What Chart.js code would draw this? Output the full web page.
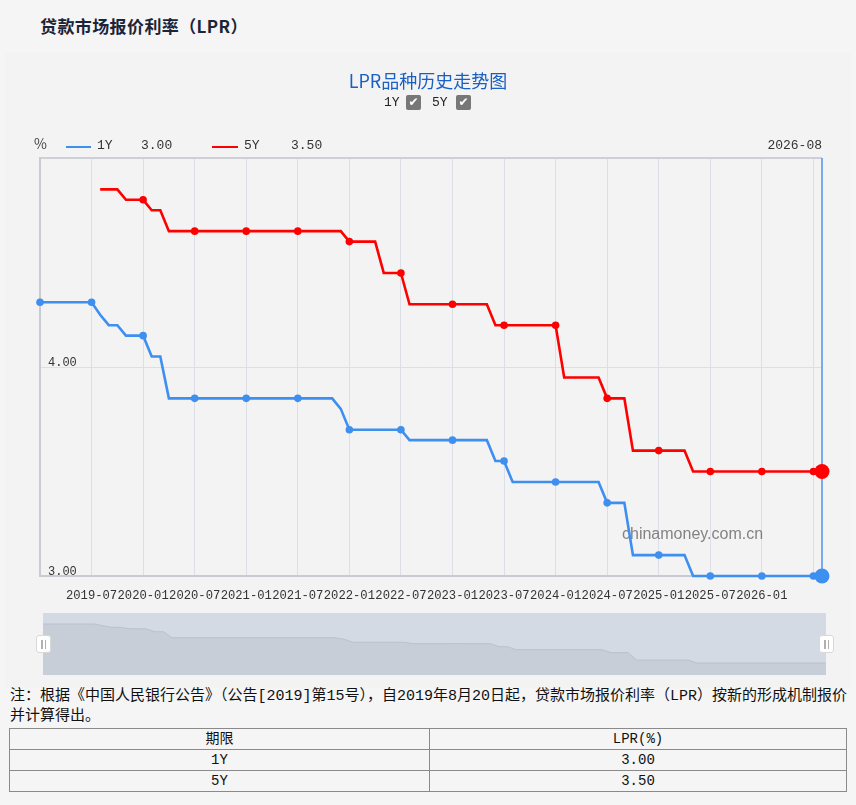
<!DOCTYPE html>
<html lang="zh-CN">
<head>
<meta charset="utf-8">
<title>贷款市场报价利率（LPR）</title>
<script src="https://cdn.jsdelivr.net/npm/chart.js@4.4.1/dist/chart.umd.min.js"></script>
<style>
  html, body { margin: 0; padding: 0; }
  body {
    width: 856px; height: 805px; position: relative; overflow: hidden;
    background: #f5f5f5; color: #222;
    font-family: "Noto Sans CJK SC", sans-serif;
  }
  .hd { position: absolute; left: 40px; top: 13px; font-size: 17px; font-weight: bold; color: #1b2438; line-height: 26px; letter-spacing: 0.4px; }
  .panel { position: absolute; left: 5px; top: 52px; width: 846px; height: 636px; background: #f3f3f3; }
  #lpr { position: absolute; left: 0; top: 0; }
  .ttl { position: absolute; left: 0; width: 856px; top: 66px; text-align: center; font-size: 18px; line-height: 28px; color: #1a5fc4; }
  .mono { font-family: "Liberation Mono", "Noto Sans CJK SC", monospace; }
  .abs { position: absolute; white-space: nowrap; }
  .box {
    position: absolute; width: 15px; height: 15px; border-radius: 2px; background: #777;
    color: #fff; font: bold 12px/15px "DejaVu Sans", sans-serif; text-align: center;
  }
  .lg { position: absolute; height: 2px; }
  .shadow { position: absolute; left: 43px; top: 613px; background: #d4dae3; }
  .handle {
    position: absolute; width: 13px; height: 16px; background: #fff; border: 1px solid #d8d8d8; border-radius: 3px;
  }
  .handle i { position: absolute; top: 4px; width: 1.5px; height: 9px; background: #b0b0b0; }
  .note { position: absolute; left: 10px; top: 687px; font-size: 15px; line-height: 20px; color: #111; white-space: nowrap; }
  table { position: absolute; left: 9px; top: 728px; width: 838px; border-collapse: collapse; font-size: 14px; color: #111; }
  td { border: 1px solid #8a8a8a; height: 20px; padding: 0; text-align: center; line-height: 20px; }
</style>
</head>
<body>
<div class="hd">贷款市场报价利率（LPR）</div>
<div class="panel"></div>
<canvas id="lpr" width="856" height="640"></canvas>

<div class="ttl">LPR品种历史走势图</div>
<span class="abs mono" style="left:384px; top:95px; font-size:13px;">1Y</span>
<span class="box" style="left:406px; top:95px;">✔</span>
<span class="abs mono" style="left:432px; top:95px; font-size:13px;">5Y</span>
<span class="box" style="left:456px; top:95px;">✔</span>

<span class="abs" style="left:34px; top:133px; font-size:14px; color:#444;">%</span>
<div class="lg" style="left:66px; top:146px; width:25px; background:#3d8ff0;"></div>
<span class="abs mono" style="left:97px; top:138px; font-size:13px; color:#333;">1Y</span>
<span class="abs mono" id="v1" style="left:141px; top:138px; font-size:13px; color:#333;"></span>
<div class="lg" style="left:212px; top:146px; width:26px; background:#ff0000;"></div>
<span class="abs mono" style="left:244px; top:138px; font-size:13px; color:#333;">5Y</span>
<span class="abs mono" id="v5" style="left:291px; top:138px; font-size:13px; color:#333;"></span>

<canvas id="shadow" class="shadow" width="783" height="62"></canvas>
<div class="handle" style="left:36px; top:635px;"><i style="left:4px"></i><i style="left:7.5px"></i></div>
<div class="handle" style="left:819px; top:635px;"><i style="left:4px"></i><i style="left:7.5px"></i></div>

<div class="note mono">注：根据《中国人民银行公告》（公告[2019]第15号），自2019年8月20日起，贷款市场报价利率（LPR）按新的形成机制报价<br>并计算得出。</div>

<table class="mono">
  <tr><td style="width:419px">期限</td><td>LPR(%)</td></tr>
  <tr><td>1Y</td><td id="t1"></td></tr>
  <tr><td>5Y</td><td id="t5"></td></tr>
</table>

<script>
// monthly categories 2019-01 .. 2026-08
const months = [
  '2019-01','2019-02','2019-03','2019-04','2019-05','2019-06','2019-07','2019-08','2019-09','2019-10','2019-11','2019-12',
  '2020-01','2020-02','2020-03','2020-04','2020-05','2020-06','2020-07','2020-08','2020-09','2020-10','2020-11','2020-12',
  '2021-01','2021-02','2021-03','2021-04','2021-05','2021-06','2021-07','2021-08','2021-09','2021-10','2021-11','2021-12',
  '2022-01','2022-02','2022-03','2022-04','2022-05','2022-06','2022-07','2022-08','2022-09','2022-10','2022-11','2022-12',
  '2023-01','2023-02','2023-03','2023-04','2023-05','2023-06','2023-07','2023-08','2023-09','2023-10','2023-11','2023-12',
  '2024-01','2024-02','2024-03','2024-04','2024-05','2024-06','2024-07','2024-08','2024-09','2024-10','2024-11','2024-12',
  '2025-01','2025-02','2025-03','2025-04','2025-05','2025-06','2025-07','2025-08','2025-09','2025-10','2025-11','2025-12',
  '2026-01','2026-02','2026-03','2026-04','2026-05','2026-06','2026-07','2026-08'
];

const lpr1Y = [
  4.31, 4.31, 4.31, 4.31, 4.31, 4.31, 4.31, 4.25, 4.20, 4.20, 4.15, 4.15,
  4.15, 4.05, 4.05, 3.85, 3.85, 3.85, 3.85, 3.85, 3.85, 3.85, 3.85, 3.85,
  3.85, 3.85, 3.85, 3.85, 3.85, 3.85, 3.85, 3.85, 3.85, 3.85, 3.85, 3.80,
  3.70, 3.70, 3.70, 3.70, 3.70, 3.70, 3.70, 3.65, 3.65, 3.65, 3.65, 3.65,
  3.65, 3.65, 3.65, 3.65, 3.65, 3.55, 3.55, 3.45, 3.45, 3.45, 3.45, 3.45,
  3.45, 3.45, 3.45, 3.45, 3.45, 3.45, 3.35, 3.35, 3.35, 3.10, 3.10, 3.10,
  3.10, 3.10, 3.10, 3.10, 3.00, 3.00, 3.00, 3.00, 3.00, 3.00, 3.00, 3.00,
  3.00, 3.00, 3.00, 3.00, 3.00, 3.00, 3.00, 3.00
];

const lpr5Y = [
  null, null, null, null, null, null, null, 4.85, 4.85, 4.85, 4.80, 4.80,
  4.80, 4.75, 4.75, 4.65, 4.65, 4.65, 4.65, 4.65, 4.65, 4.65, 4.65, 4.65,
  4.65, 4.65, 4.65, 4.65, 4.65, 4.65, 4.65, 4.65, 4.65, 4.65, 4.65, 4.65,
  4.60, 4.60, 4.60, 4.60, 4.45, 4.45, 4.45, 4.30, 4.30, 4.30, 4.30, 4.30,
  4.30, 4.30, 4.30, 4.30, 4.30, 4.20, 4.20, 4.20, 4.20, 4.20, 4.20, 4.20,
  4.20, 3.95, 3.95, 3.95, 3.95, 3.95, 3.85, 3.85, 3.85, 3.60, 3.60, 3.60,
  3.60, 3.60, 3.60, 3.60, 3.50, 3.50, 3.50, 3.50, 3.50, 3.50, 3.50, 3.50,
  3.50, 3.50, 3.50, 3.50, 3.50, 3.50, 3.50, 3.50
];

const xTickLabels = ['2019-07','2020-01','2020-07','2021-01','2021-07','2022-01','2022-07',
  '2023-01','2023-07','2024-01','2024-07','2025-01','2025-07','2026-01'];
const yTickLabels = ['3.00', '4.00'];

const BLUE = '#3d8ff0';
const RED = '#ff0000';
const last = months.length - 1;

// half-year marks carry the gridlines and the small markers
const isMark = i => /-(01|07)$/.test(months[i]);

const markerRadius = ctx => {
  if (ctx.type !== 'data') return 0;
  if (ctx.dataIndex === last) return 7.5;
  return isMark(ctx.dataIndex) ? 3.8 : 0;
};

document.getElementById('v1').textContent = lpr1Y[last].toFixed(2);
document.getElementById('v5').textContent = lpr5Y[last].toFixed(2);
document.getElementById('t1').textContent = lpr1Y[last].toFixed(2);
document.getElementById('t5').textContent = lpr5Y[last].toFixed(2);

const pointer = {
  id: 'pointer',
  beforeDatasetsDraw(chart) {
    const { ctx, chartArea } = chart;
    const x = chart.scales.x.getPixelForValue(last);
    ctx.save();
    ctx.fillStyle = 'rgba(110,110,110,0.85)';
    ctx.font = '16px "Liberation Sans", Arial, sans-serif';
    ctx.textAlign = 'left';
    ctx.textBaseline = 'middle';
    ctx.fillText('chinamoney.com.cn', 622, 535);
    ctx.strokeStyle = '#4f94ee';
    ctx.lineWidth = 1.5;
    ctx.beginPath();
    ctx.moveTo(x, chartArea.top);
    ctx.lineTo(x, chartArea.bottom);
    ctx.stroke();
    ctx.restore();
  },
  afterDraw(chart) {
    const { ctx, chartArea } = chart;
    const x = chart.scales.x.getPixelForValue(last);
    ctx.save();
    ctx.fillStyle = '#333';
    ctx.font = '13px "Liberation Mono", monospace';
    ctx.textAlign = 'right';
    ctx.textBaseline = 'middle';
    ctx.fillText(months[last], x, chartArea.top - 12);
    ctx.restore();
  }
};

new Chart(document.getElementById('lpr'), {
  type: 'line',
  data: {
    labels: months,
    datasets: [
      { label: '1Y', data: lpr1Y, borderColor: BLUE, backgroundColor: BLUE, borderWidth: 2.6, clip: false,
        pointRadius: markerRadius, pointHoverRadius: markerRadius, pointBorderWidth: 0, tension: 0 },
      { label: '5Y', data: lpr5Y, borderColor: RED, backgroundColor: RED, borderWidth: 2.6, clip: false,
        pointRadius: markerRadius, pointHoverRadius: markerRadius, pointBorderWidth: 0, tension: 0 }
    ]
  },
  options: {
    responsive: false,
    animation: false,
    events: [],
    layout: { autoPadding: false, padding: { left: 40, right: 34, top: 158, bottom: 24 } },
    plugins: { legend: { display: false }, tooltip: { enabled: false } },
    scales: {
      x: {
        ticks: {
          autoSkip: false, maxRotation: 0, minRotation: 0, padding: 12, color: '#333',
          font: { family: 'Liberation Mono', size: 12.2 },
          callback: (v, i) => xTickLabels.includes(months[i]) ? months[i] : ''
        },
        grid: {
          drawTicks: false, lineWidth: 1,
          color: ctx => (ctx.index > 0 && ctx.index < last && isMark(ctx.index)) ? '#dcdfe7' : 'transparent'
        },
        border: { color: '#c8cbd2', width: 2 },
        afterFit: s => { s.height = 40; }
      },
      y: {
        min: 3, max: 5,
        ticks: {
          stepSize: 1, mirror: true, padding: 8, labelOffset: -4, color: '#333',
          font: { family: 'Liberation Mono', size: 12 },
          callback: v => yTickLabels.find(t => Number(t) === v) || ''
        },
        grid: {
          drawTicks: false,
          color: ctx => ctx.tick.value === 5 ? '#cdd0d6' : (ctx.tick.value === 4 ? '#dcdfe7' : 'transparent'),
          lineWidth: ctx => ctx.tick.value === 5 ? 2 : 1
        },
        border: { color: '#c8cbd2', width: 2 },
        afterFit: s => { s.width = 0; }
      }
    }
  },
  plugins: [pointer]
});

// data-zoom style overview strip
new Chart(document.getElementById('shadow'), {
  type: 'line',
  data: {
    labels: months,
    datasets: [{ data: lpr1Y, borderColor: '#bac1cc', borderWidth: 1, backgroundColor: '#c8ced8',
      fill: 'start', pointRadius: 0, tension: 0 }]
  },
  options: {
    responsive: false, animation: false, events: [],
    layout: { autoPadding: false, padding: 0 },
    plugins: { legend: { display: false }, tooltip: { enabled: false } },
    scales: { x: { display: false }, y: { display: false, min: 2.6, max: 4.68 } }
  }
});
</script>
</body>
</html>
